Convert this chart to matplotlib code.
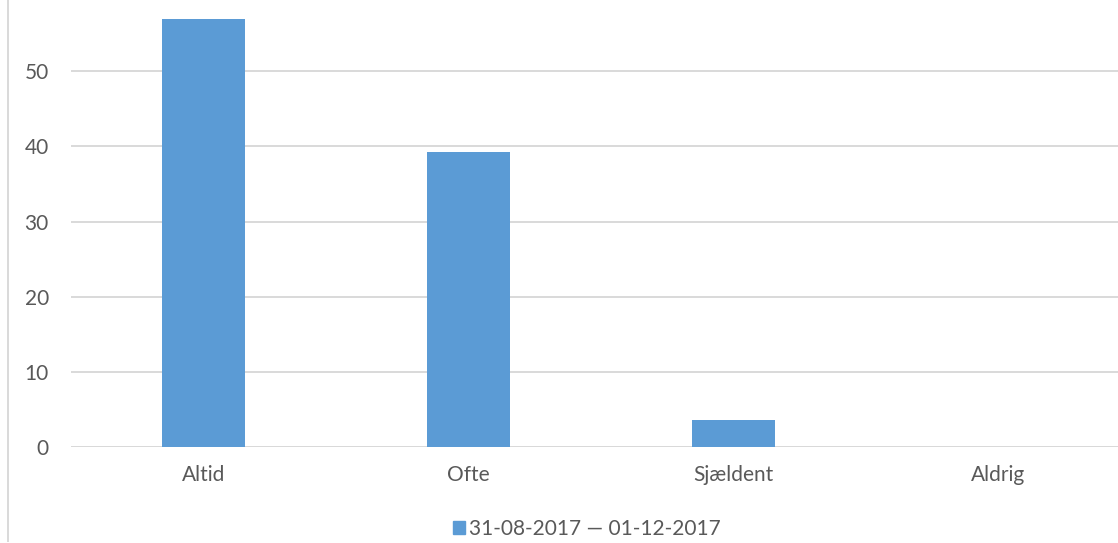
import matplotlib.pyplot as plt
from matplotlib.lines import Line2D
from matplotlib.patches import Patch

categories = ['Altid', 'Ofte', 'Sjældent', 'Aldrig']
values = [57.0, 39.2, 3.6, 0.0]
series_name = '31-08-2017 \u2014 01-12-2017'
yticks = [0, 10, 20, 30, 40, 50]

plt.rcParams['font.family'] = ['Lato', 'DejaVu Sans']
text_col = '#595959'
bar_col = '#5b9bd5'
grid_col = '#d9d9d9'

W, H = 1118, 543
fig = plt.figure(figsize=(W / 100, H / 100), dpi=100)
ax = fig.add_axes([71 / W, 96 / H, 1060 / W, 451 / H])

x = range(len(categories))
ax.bar(x, values, width=0.313, color=bar_col, zorder=3)
ax.set_xlim(-0.5, len(categories) - 0.5)
ax.set_ylim(0, 60)
ax.set_yticks(yticks)
ax.set_xticks(list(x))
ax.set_xticklabels(categories)
ax.yaxis.grid(True, color=grid_col, linewidth=1.4, zorder=0)
for s in ax.spines.values():
    s.set_visible(False)
ax.axhline(0, color=grid_col, linewidth=1.4, zorder=2)
ax.tick_params(axis='both', length=0, labelsize=15, colors=text_col)
ax.tick_params(axis='y', pad=16)
ax.tick_params(axis='x', pad=13)

fig.add_artist(Line2D([7.5 / W, 7.5 / W], [2 / H, 1], color=grid_col, linewidth=1.4))

fig.legend(handles=[Patch(color=bar_col, label=series_name)], loc='center',
           bbox_to_anchor=(587 / W, 1 - 529 / H), frameon=False, fontsize=15,
           labelcolor=text_col, handlelength=0.6, handleheight=0.6, handletextpad=0.2)

fig.savefig('out.png', dpi=100)
